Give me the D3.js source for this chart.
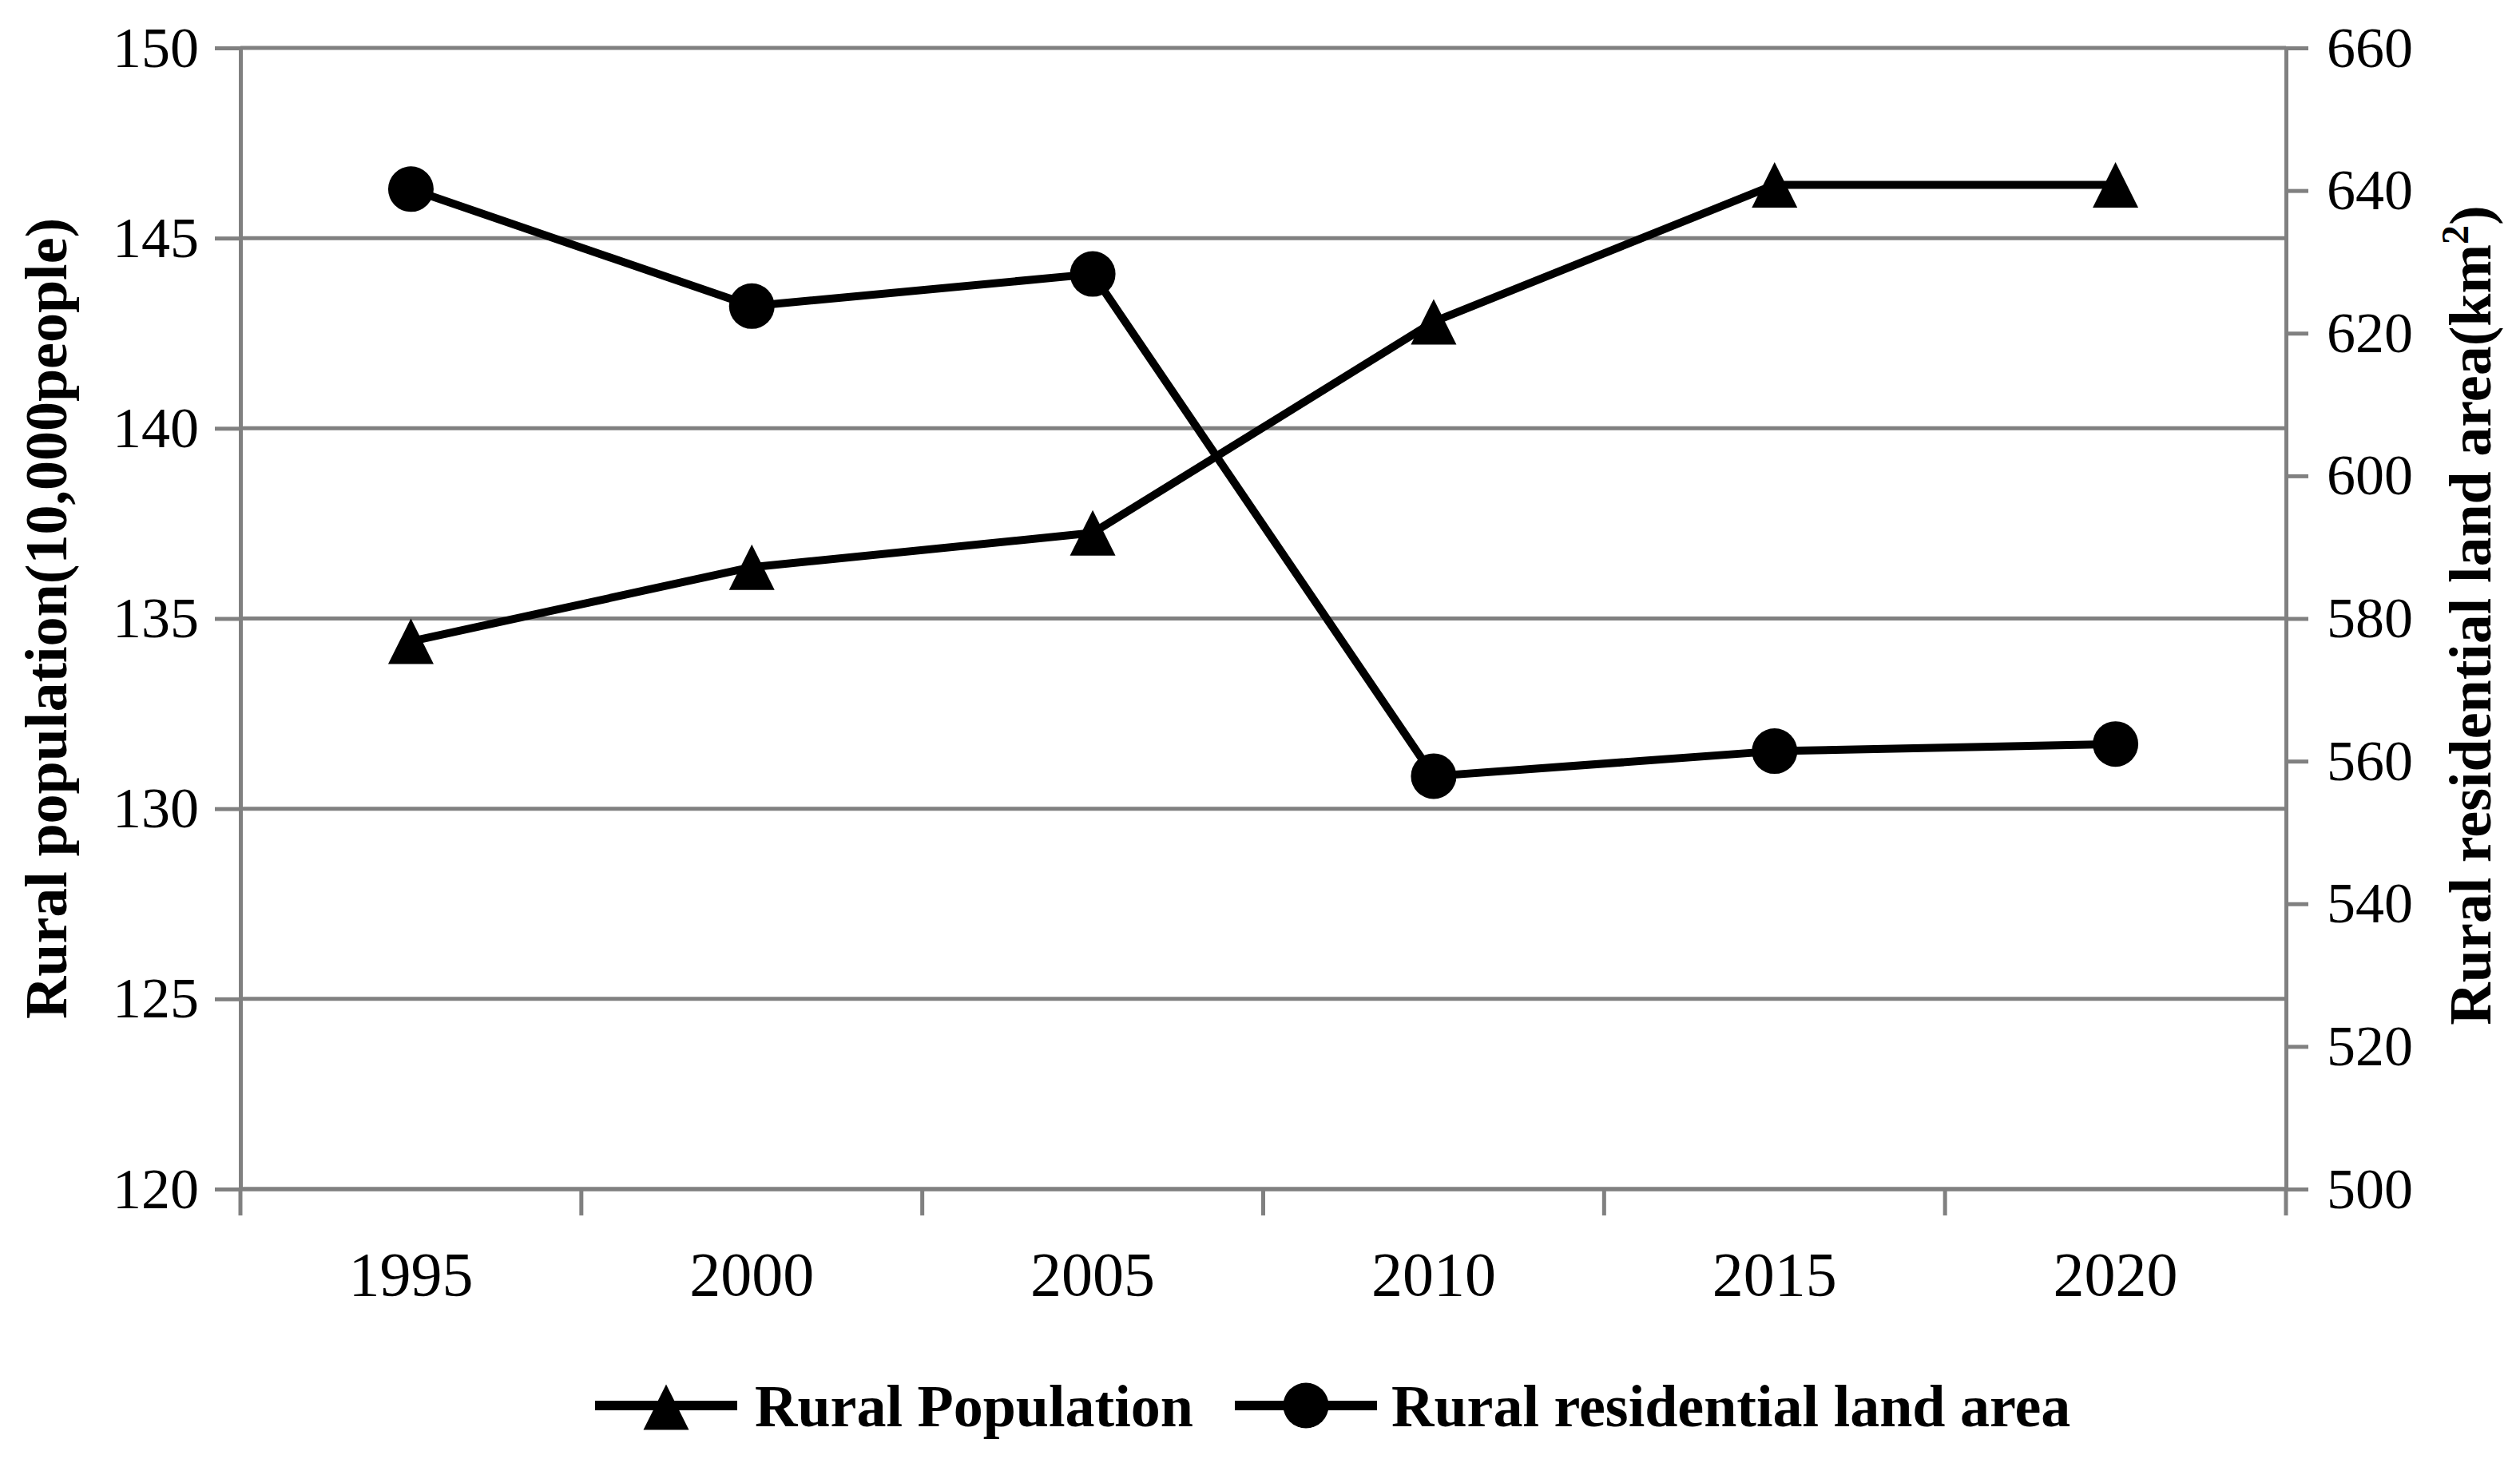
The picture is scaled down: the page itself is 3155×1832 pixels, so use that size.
<!DOCTYPE html>
<html>
<head>
<meta charset="utf-8">
<script src="https://cdn.jsdelivr.net/npm/d3@7"></script>
<style>
  html, body { margin: 0; padding: 0; background: #ffffff; }
  svg { display: block; }
</style>
</head>
<body>
<svg id="chart" width="3155" height="1832"></svg>
<script>
const years = ["1995", "2000", "2005", "2010", "2015", "2020"];
const ruralPopulation = [134.4, 136.35, 137.25, 142.8, 146.4, 146.4];
const landArea = [640.2, 623.8, 628.3, 557.9, 561.4, 562.4];
const leftTicks = [120, 125, 130, 135, 140, 145, 150];
const rightTicks = [500, 520, 540, 560, 580, 600, 620, 640, 660];
const seriesNames = ["Rural Population", "Rural residential land area"];
const leftTitle = "Rural population(10,000people)";
const rightTitle = "Rural residential land area(km";

const W = 3155, H = 1832;
const m = { left: 301, right: 2862, top: 60, bottom: 1489 };
const grid = "#808080";
const gridW = 5;
const serif = "'Liberation Serif', 'Times New Roman', serif";

const svg = d3.select("#chart");
svg.append("rect").attr("width", W).attr("height", H).attr("fill", "#fff");

const x = d3.scaleBand().domain(years).range([m.left, m.right]);
const cx = d => x(d) + x.bandwidth() / 2;
const yL = d3.scaleLinear().domain([120, 150]).range([m.bottom, m.top]);
const yR = d3.scaleLinear().domain([500, 660]).range([m.bottom, m.top]);

// gridlines
svg.append("g").selectAll("line").data(leftTicks).join("line")
  .attr("x1", m.left).attr("x2", m.right)
  .attr("y1", d => yL(d)).attr("y2", d => yL(d))
  .attr("stroke", grid).attr("stroke-width", gridW);

// left axis
const gL = svg.append("g").attr("transform", `translate(${m.left},0)`)
  .call(d3.axisLeft(yL).tickValues(leftTicks).tickSize(32).tickSizeOuter(0).tickPadding(20));
// right axis
const gR = svg.append("g").attr("transform", `translate(${m.right},0)`)
  .call(d3.axisRight(yR).tickValues(rightTicks).tickSize(28).tickSizeOuter(0).tickPadding(23));
[gL, gR].forEach(g => {
  g.select(".domain").attr("stroke", grid).attr("stroke-width", gridW);
  g.selectAll(".tick line").attr("stroke", grid).attr("stroke-width", gridW);
  g.selectAll(".tick text").attr("font-family", serif).attr("font-size", 72)
    .attr("fill", "#000").attr("dy", "0.32em");
});

// bottom axis: ticks at band boundaries
const edges = years.map(d => x(d)).concat([m.right]);
const gB = svg.append("g");
gB.append("line").attr("x1", m.left).attr("x2", m.right)
  .attr("y1", m.bottom).attr("y2", m.bottom)
  .attr("stroke", grid).attr("stroke-width", gridW);
gB.selectAll("line.t").data(edges).join("line").attr("class", "t")
  .attr("x1", d => d).attr("x2", d => d)
  .attr("y1", m.bottom).attr("y2", m.bottom + 33)
  .attr("stroke", grid).attr("stroke-width", gridW);
gB.selectAll("text").data(years).join("text")
  .attr("x", d => cx(d)).attr("y", 1622)
  .attr("text-anchor", "middle")
  .attr("font-family", serif).attr("font-size", 78).attr("fill", "#000")
  .text(d => d);

// series lines
const lineW = 10;
const popPts = years.map((d, i) => [cx(d), yL(ruralPopulation[i])]);
const landPts = years.map((d, i) => [cx(d), yR(landArea[i])]);
svg.append("path").attr("d", d3.line()(popPts)).attr("fill", "none")
  .attr("stroke", "#000").attr("stroke-width", lineW).attr("stroke-linejoin", "round");
svg.append("path").attr("d", d3.line()(landPts)).attr("fill", "none")
  .attr("stroke", "#000").attr("stroke-width", lineW).attr("stroke-linejoin", "round");

// markers
const tri = (s) => `M0,${-s / 2}L${s / 2},${s / 2}L${-s / 2},${s / 2}Z`;
const mk = 57;
svg.append("g").selectAll("path").data(popPts).join("path")
  .attr("transform", d => `translate(${d[0]},${d[1]})`)
  .attr("d", tri(mk)).attr("fill", "#000");
svg.append("g").selectAll("circle").data(landPts).join("circle")
  .attr("cx", d => d[0]).attr("cy", d => d[1]).attr("r", mk / 2).attr("fill", "#000");

// axis titles
const midY = (m.top + m.bottom) / 2;
svg.append("text")
  .attr("transform", `translate(83,${midY}) rotate(-90)`)
  .attr("text-anchor", "middle")
  .attr("font-family", serif).attr("font-weight", "bold").attr("font-size", 74).attr("fill", "#000")
  .text(leftTitle);
const rt = svg.append("text")
  .attr("transform", `translate(3118,${midY - 4}) rotate(-90)`)
  .attr("text-anchor", "middle")
  .attr("font-family", serif).attr("font-weight", "bold").attr("font-size", 74).attr("fill", "#000");
rt.append("tspan").text(rightTitle);
rt.append("tspan").attr("font-size", 48).attr("dy", -28).text("2");
rt.append("tspan").attr("dy", 28).text(")");

// legend
const legY = 1760;
const leg = svg.append("g");
const legItems = [
  { name: seriesNames[0], x1: 745, x2: 923, type: "tri", tx: 945 },
  { name: seriesNames[1], x1: 1546, x2: 1724, type: "circ", tx: 1742 }
];
legItems.forEach(it => {
  leg.append("line").attr("x1", it.x1).attr("x2", it.x2).attr("y1", legY).attr("y2", legY)
    .attr("stroke", "#000").attr("stroke-width", 12);
  const mx = (it.x1 + it.x2) / 2;
  if (it.type === "tri") {
    leg.append("path").attr("transform", `translate(${mx},${legY + 2})`).attr("d", tri(mk)).attr("fill", "#000");
  } else {
    leg.append("circle").attr("cx", mx).attr("cy", legY).attr("r", mk / 2).attr("fill", "#000");
  }
  leg.append("text").attr("x", it.tx).attr("y", 1786)
    .attr("font-family", serif).attr("font-weight", "bold").attr("font-size", 74).attr("fill", "#000")
    .text(it.name);
});
</script>
</body>
</html>
